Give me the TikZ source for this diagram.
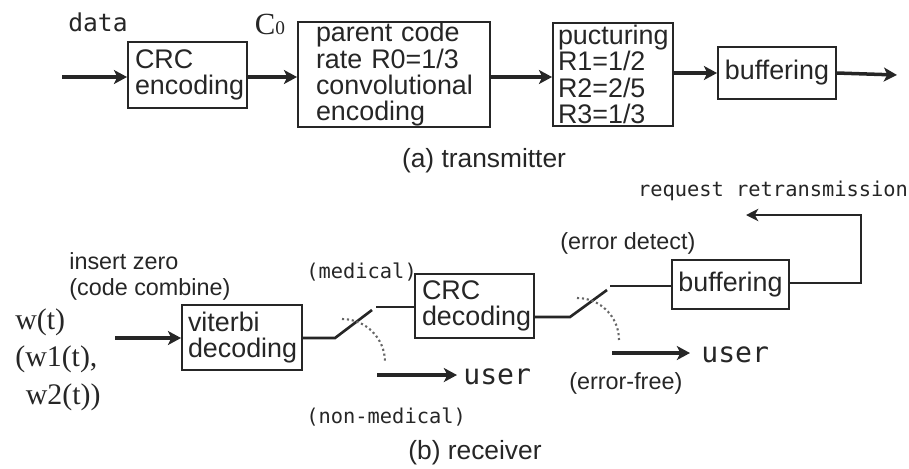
\documentclass[tikz,border=0pt]{standalone}
\usepackage{fontspec}
\setmainfont{Liberation Sans}
\newfontfamily\serifw{Liberation Serif}
\newfontfamily\monow{DejaVu Sans Mono}
\usetikzlibrary{arrows.meta}
\lineskiplimit=-10pt

\begin{document}
\begin{tikzpicture}[x=0.02cm, y=-0.02cm,
  ink/.style={draw=black!85},
  blk/.style={ink, line width=1.1pt, inner sep=0pt, align=left, text=black!85,
              font=\fontsize{15.3}{15}\selectfont},
  tip/.style={-{Stealth[length=7.5pt,width=8pt,inset=2pt]}},
  arr/.style={ink, line width=2pt, tip},
  wire/.style={ink, line width=1.5pt},
  swing/.style={draw=black!60, line width=1.2pt, dash pattern=on 1.2pt off 1.6pt},
  lab/.style={inner sep=0pt, text=black!85, font=\fontsize{13.3}{15.3}\selectfont, align=left},
  captxt/.style={inner sep=0pt, text=black!85, font=\fontsize{15}{15}\selectfont},
  mono/.style={inner sep=0pt, text=black!85, font=\monow\fontsize{14}{14}\selectfont},
  monouser/.style={inner sep=0pt, text=black!85, font=\monow\fontsize{16}{16}\selectfont},
  monosm/.style={inner sep=0pt, text=black!85, font=\monow\fontsize{11.6}{11.6}\selectfont},
]
\useasboundingbox (0,0) rectangle (909,468);

% ---------------- (a) transmitter ----------------
\node[blk, minimum width=2.38cm, minimum height=1.32cm, text width=2.10cm] (crcenc) at (187.5,75) {CRC\\encoding};
\node[blk, minimum width=3.84cm, minimum height=2.06cm, text width=3.12cm] (conv) at (394,74.5) {parent code\\rate R0=1/3\\convolutional\\encoding};
\node[blk, minimum width=2.40cm, minimum height=2.06cm, text width=2.20cm] (punct) at (613,74.5) {pucturing\\R1=1/2\\R2=2/5\\R3=1/3};
\node[blk, align=center, minimum width=2.36cm, minimum height=1.04cm] (buftx) at (777,73) {buffering};

\coordinate (txin) at (62,77);
\coordinate (txout) at (897,75);
\draw[arr] (txin) -- (crcenc.west |- txin);
\draw[arr] (crcenc.east |- txin) -- (conv.west |- txin);
\draw[arr] (conv.east |- txin) -- (punct.west |- txin);
\draw[arr] (punct.east |- buftx.east) -- (buftx.west);
\draw[arr] (buftx.east) -- (txout);

\node[mono] (data) at (98,22) {data};
\node[inner sep=0pt, text=black!85] (c0) at (270,24) {\serifw\fontsize{17.5}{17}\selectfont C\fontsize{11}{11}\selectfont 0};
\node[captxt] (capa) at (484,161) {(a) transmitter};

% ---------------- (b) receiver ----------------
\node[blk, minimum width=2.40cm, minimum height=1.30cm, text width=2.16cm] (vit) at (242,337.5) {viterbi\\decoding};
\node[blk, minimum width=2.38cm, minimum height=1.28cm, text width=2.10cm] (crcdec) at (474.5,306) {CRC\\decoding};
\node[blk, align=center, minimum width=2.34cm, minimum height=0.98cm] (bufrx) at (730.5,284.5) {buffering};

\node[inner sep=0pt, anchor=west, align=left, text=black!85,
      font=\serifw\fontsize{17}{21.3}\selectfont] (wt) at (15,359.5)
      {w(t)\\(w1(t),\\\hspace*{0.35em}w2(t))};
\node[lab, anchor=west] (ins) at (69,276.5) {insert zero\\(code combine)};

\coordinate (rxin) at (115,338);
\draw[arr] (rxin) -- (vit.west |- rxin);

% first switch: medical / non-medical
\coordinate (s1p) at (335,338);
\coordinate (s1q) at (372,310);
\coordinate (s1c) at (376,307);
\draw[wire] (vit.east |- s1p) -- (s1p) -- (s1q);
\draw[wire] (s1c) -- (crcdec.west |- s1c);
\draw[swing] (342,319) .. controls (365.7,319) and (385,338.3) .. (385,362);
\coordinate (u1a) at (377,375);
\coordinate (u1b) at (457,375);
\draw[arr] (u1a) -- (u1b);
\node[monouser, anchor=west] (user1) at (463,377) {user};
\node[monosm, anchor=west] (med) at (306,272) {(medical)};
\node[monosm, anchor=west] (nonmed) at (306,417) {(non-medical)};

% second switch: error detect / error-free
\coordinate (s2p) at (570,317);
\coordinate (s2q) at (607,290);
\coordinate (s2c) at (610,286);
\draw[wire] (crcdec.east |- s2p) -- (s2p) -- (s2q);
\draw[wire] (s2c) -- (bufrx.west |- s2c);
\draw[swing] (577,298) .. controls (600.2,298) and (619,316.8) .. (619,340);
\coordinate (u2a) at (612,353);
\coordinate (u2b) at (690,353);
\draw[arr] (u2a) -- (u2b);
\node[monouser, anchor=west] (user2) at (701,355) {user};
\node[lab, anchor=west] (errdet) at (560,243) {(error detect)};
\node[lab, anchor=west] (errfree) at (569,383) {(error-free)};

% retransmission request
\coordinate (fb1) at (861,283);
\coordinate (fb2) at (861,215);
\coordinate (fb3) at (746,215);
\draw[ink, line width=1.3pt, -{Stealth[length=7pt,width=7pt,inset=2pt]}] (bufrx.east |- fb1) -- (fb1) -- (fb2) -- (fb3);
\node[inner sep=0pt, text=black!85, font=\monow\fontsize{11.6}{11.6}\selectfont] (req) at (773,191) {request retransmission};

\node[captxt] (capb) at (475,453) {(b) receiver};
\end{tikzpicture}
\end{document}
